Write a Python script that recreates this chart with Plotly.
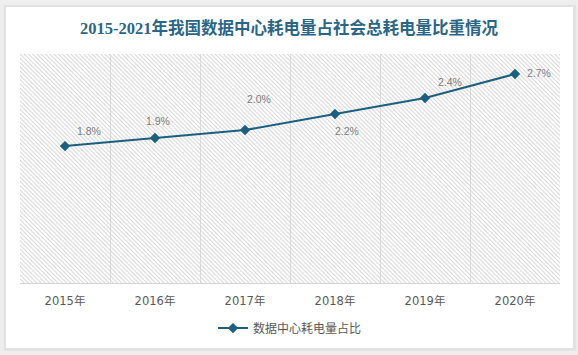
import plotly.graph_objects as go

# ---- data ----
years = ["2015年", "2016年", "2017年", "2018年", "2019年", "2020年"]
share = [1.8, 1.9, 2.0, 2.2, 2.4, 2.7]
labels = ["1.8%", "1.9%", "2.0%", "2.2%", "2.4%", "2.7%"]
series_name = "数据中心耗电量占比"
title_text = "2015-2021年我国数据中心耗电量占社会总耗电量比重情况"

# label offsets in pixels (styling)
label_shift = [(24, 15), (3, 17), (14, 31), (12, -17), (25, 16), (24, 1)]

line_color = "#1d5f80"

fig = go.Figure()

# hatched plot background (decoration on hidden helper axes)
fig.add_trace(go.Bar(
    x=[0.5], y=[1], width=[1],
    xaxis="x", yaxis="y",
    marker=dict(color="rgba(0,0,0,0)", line=dict(width=0),
                pattern=dict(shape="\\", fgcolor="#d2d2d2", size=3, solidity=0.33,
                             fillmode="replace")),
    showlegend=False, hoverinfo="skip",
))

# main series
fig.add_trace(go.Scatter(
    x=years, y=share, name=series_name,
    xaxis="x2", yaxis="y2",
    mode="lines+markers",
    line=dict(color=line_color, width=2),
    marker=dict(symbol="diamond", size=8, color=line_color),
))

annotations = []
for yr, v, t, (dx, dy) in zip(years, share, labels, label_shift):
    annotations.append(dict(
        x=yr, y=v, xref="x2", yref="y2", text=t, showarrow=False,
        xshift=dx, yshift=dy,
        font=dict(family="Liberation Sans, Noto Sans CJK SC", size=10.5, color="#7f7f7f"),
    ))

# card background with a soft shadow
shapes = [
    dict(type="rect", xref="paper", yref="paper", layer="below",
         x0=-0.030, x1=1.030, y0=-0.296, y1=1.214,
         fillcolor="#e2e2e2", line=dict(width=0)),
    dict(type="rect", xref="paper", yref="paper", layer="below",
         x0=-0.026, x1=1.024, y0=-0.284, y1=1.205,
         fillcolor="#ffffff", line=dict(width=0)),
]

fig.update_layout(
    width=578, height=355,
    margin=dict(l=20, r=18, t=54, b=72),
    paper_bgcolor="#eeeeee",
    plot_bgcolor="rgba(0,0,0,0)",
    title=dict(text=title_text, x=0.5, xanchor="center", y=0.921, yanchor="middle",
               font=dict(family="Liberation Serif, Noto Sans CJK SC", size=16.5,
                         color="#2b6686", weight="bold")),
    xaxis=dict(range=[0, 1], visible=False, fixedrange=True),
    yaxis=dict(range=[0, 1], visible=False, fixedrange=True),
    xaxis2=dict(overlaying="x", type="category", tickson="boundaries",
                range=[-0.5, len(years) - 0.5], autorange=False,
                showgrid=True, gridcolor="#dedede", gridwidth=1,
                showline=True, linecolor="#d4d4d4", linewidth=1,
                ticks="", ticklen=0, ticklabelstandoff=7,
                tickfont=dict(family="DejaVu Sans, Noto Sans CJK SC", size=11.5, color="#595959"),
                anchor="y2", zeroline=False),
    yaxis2=dict(overlaying="y", range=[0.09, 2.95], visible=False, showgrid=False,
                zeroline=False, anchor="x2"),
    showlegend=True,
    legend=dict(orientation="h", x=0.5, xanchor="center", y=-0.197, yanchor="middle",
                font=dict(family="Noto Sans CJK SC", size=12, color="#595959"),
                bgcolor="rgba(0,0,0,0)"),
    annotations=annotations,
    shapes=shapes,
)

fig.write_html("out.html", config={"displayModeBar": False},
               post_script="document.body.style.margin='0';")
